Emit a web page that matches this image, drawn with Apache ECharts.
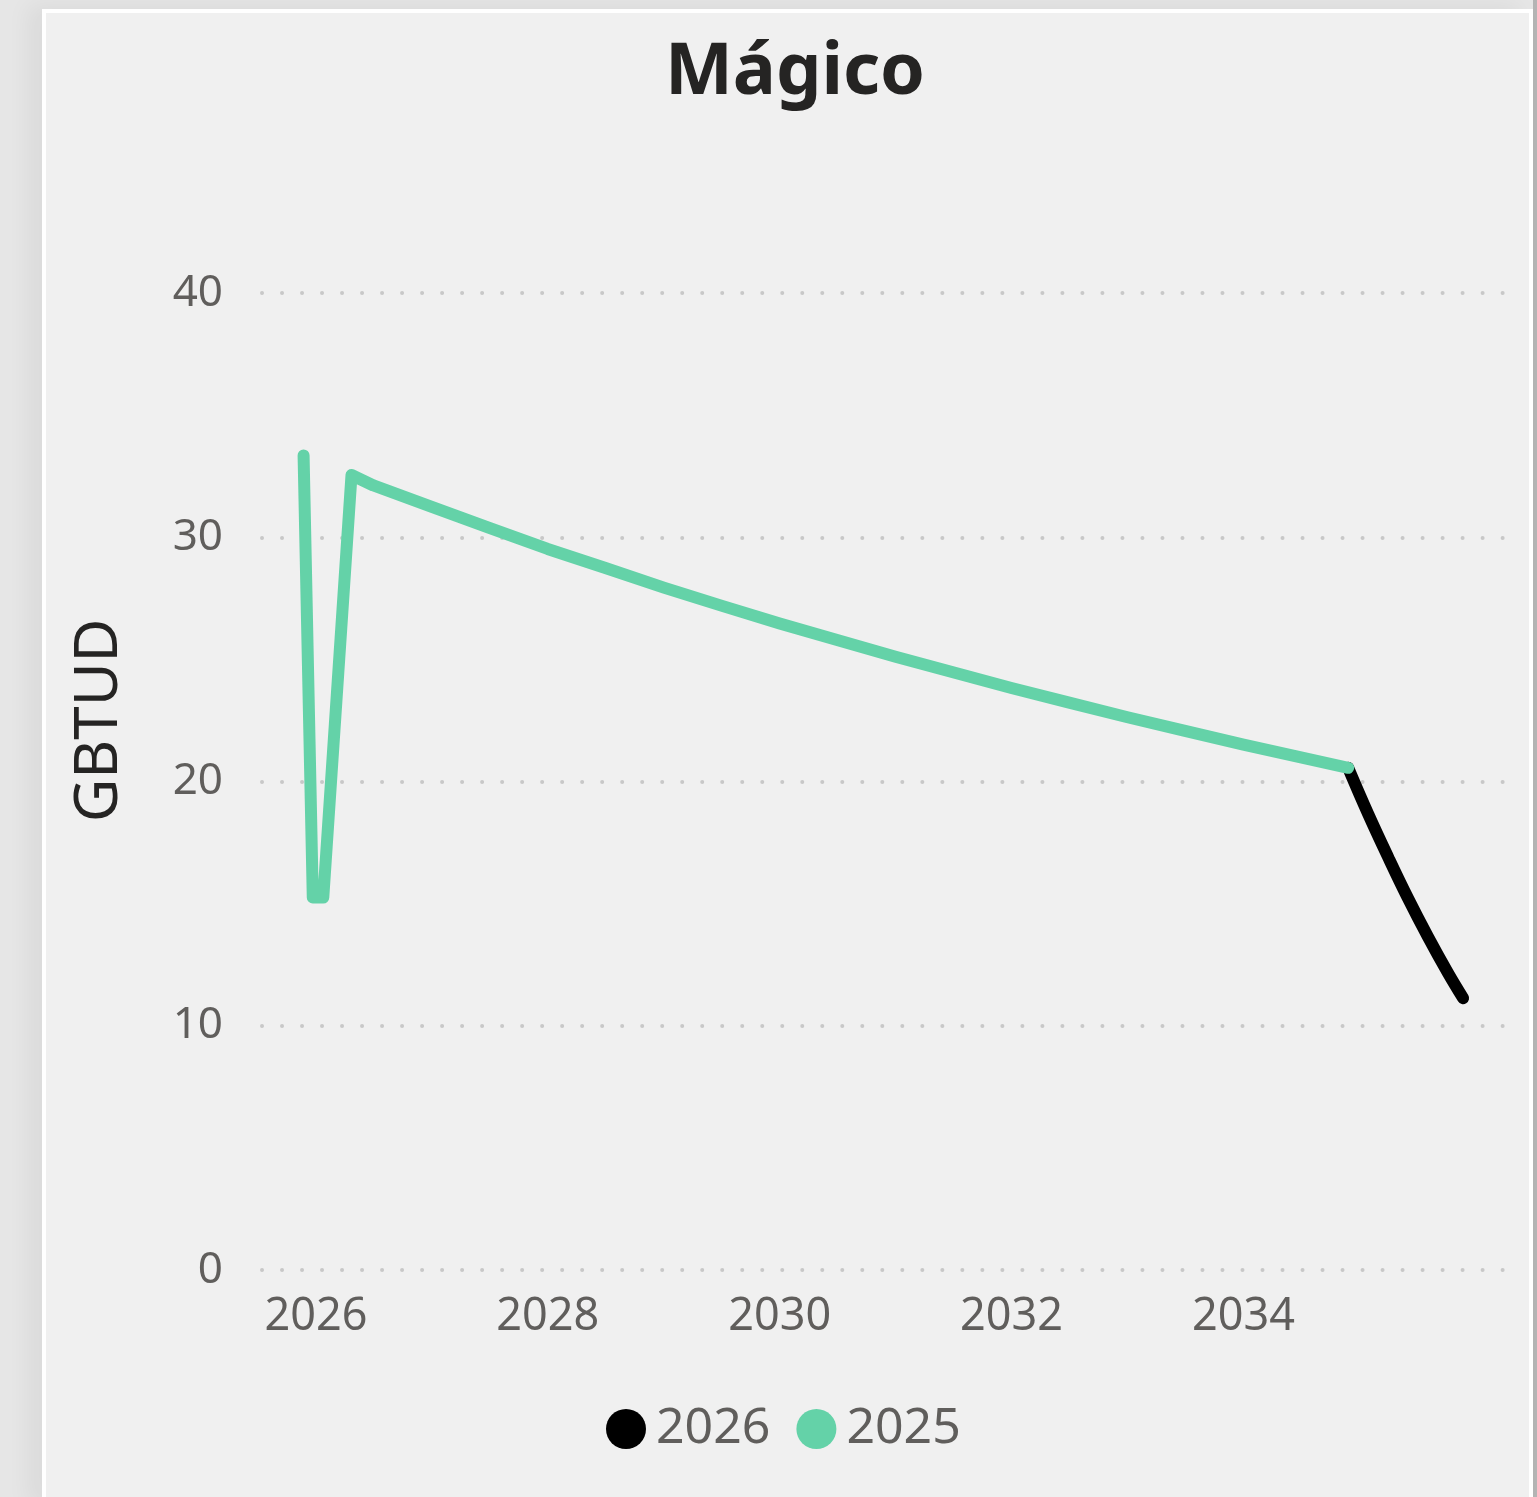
<!DOCTYPE html>
<html>
<head>
<meta charset="utf-8">
<title>Mágico</title>
<script src="https://cdn.jsdelivr.net/npm/echarts@6/dist/echarts.min.js"></script>
<style>
  html, body { margin: 0; padding: 0; background: #e6e6e6; overflow: hidden; }
  #edge { position: absolute; left: 1533px; top: 0; width: 4px; height: 1497px; background: #b4b4b4; }
  #card {
    position: absolute; left: 42px; top: 9px; width: 1491px; height: 1500px;
    box-sizing: border-box; border: 4px solid #ffffff; background: #f0f0f0;
    box-shadow: -14px -4px 22px rgba(0, 0, 0, 0.05);
  }
  #chart { position: absolute; left: 0; top: 0; width: 1537px; height: 1497px; }
</style>
</head>
<body>
<div id="edge"></div>
<div id="card"></div>
<div id="chart"></div>
<script>
// 2025 series (green)
var dates2025 = ['2025-11-23', '2025-12-22', '2026-01-24', '2026-04-23', '2026-07-01',
  '2027-01-01', '2027-07-01', '2028-01-01', '2028-07-01', '2029-01-01', '2029-07-01',
  '2030-01-01', '2030-07-01', '2031-01-01', '2031-07-01', '2032-01-01', '2032-07-01',
  '2033-01-01', '2033-07-01', '2034-01-01', '2034-07-01', '2034-11-27'];
var values2025 = [33.35, 15.25, 15.25, 32.55, 32.12,
  31.24, 30.38, 29.52, 28.74, 27.94, 27.2,
  26.47, 25.79, 25.11, 24.47, 23.83, 23.23,
  22.63, 22.07, 21.51, 20.99, 20.56];

// 2026 series (black)
var dates2026 = ['2034-11-27', '2035-01-29', '2035-04-02', '2035-06-03', '2035-08-05', '2035-10-07', '2035-11-24'];
var values2026 = [20.56, 18.67, 16.9, 15.23, 13.65, 12.17, 11.13];

var yearTicks = [2026, 2028, 2030, 2032, 2034];
var legendNames = ['2026', '2025'];
var xRange = ['2025-07-15', '2036-04-04'];

function pairs(d, v) {
  return d.map(function (x, i) { return [Date.parse(x), v[i]]; });
}

var fontFamily = '"Segoe UI", "Noto Sans", "Open Sans", sans-serif';
var myChart = echarts.init(document.getElementById('chart'));

var option = {
  backgroundColor: 'transparent',
  textStyle: { fontFamily: fontFamily },
  title: {
    text: 'Mágico',
    left: 790,
    textAlign: 'center',
    top: 32,
    textStyle: { fontSize: 72, fontWeight: 'bold', color: '#252423', fontFamily: fontFamily }
  },
  legend: {
    data: legendNames,
    left: 601,
    top: 1399,
    icon: 'circle',
    itemWidth: 40,
    itemHeight: 40,
    itemGap: 26,
    textStyle: { fontSize: 50, color: '#605e5c', padding: [0, 0, 0, 5], fontFamily: fontFamily }
  },
  grid: { left: 262, right: 32, top: 293, bottom: 227 },
  xAxis: {
    type: 'value',
    min: Date.parse(xRange[0]),
    max: Date.parse(xRange[1]),
    axisLine: { show: false },
    axisTick: { show: false },
    splitLine: { show: false },
    axisLabel: {
      customValues: yearTicks.map(function (y) { return Date.UTC(y, 0, 1); }),
      formatter: function (val) { return String(new Date(val).getUTCFullYear()); },
      fontSize: 45,
      color: '#605e5c',
      margin: 25,
      fontFamily: fontFamily
    }
  },
  yAxis: {
    type: 'value',
    min: 0,
    max: 40,
    interval: 10,
    name: 'GBTUD',
    nameLocation: 'middle',
    nameRotate: 90,
    nameGap: 132,
    nameTextStyle: { fontSize: 60, color: '#252423', padding: [0, 0, 0, 122], fontFamily: fontFamily },
    axisLine: { show: false },
    axisTick: { show: false },
    axisLabel: { fontSize: 44, color: '#605e5c', margin: 39, fontFamily: fontFamily },
    splitLine: {
      lineStyle: { color: '#c8c8c8', width: 4, type: [0.01, 20], cap: 'round' }
    }
  },
  series: [
    {
      name: '2026',
      type: 'line',
      data: pairs(dates2026, values2026),
      smooth: 0.4,
      showSymbol: false,
      color: '#000000',
      lineStyle: { width: 12, color: '#000000', cap: 'round', join: 'round' }
    },
    {
      name: '2025',
      type: 'line',
      data: pairs(dates2025, values2025),
      showSymbol: false,
      color: '#64d2a8',
      lineStyle: { width: 12, color: '#64d2a8', cap: 'round', join: 'round' }
    }
  ]
};

myChart.setOption(option);
</script>
</body>
</html>
